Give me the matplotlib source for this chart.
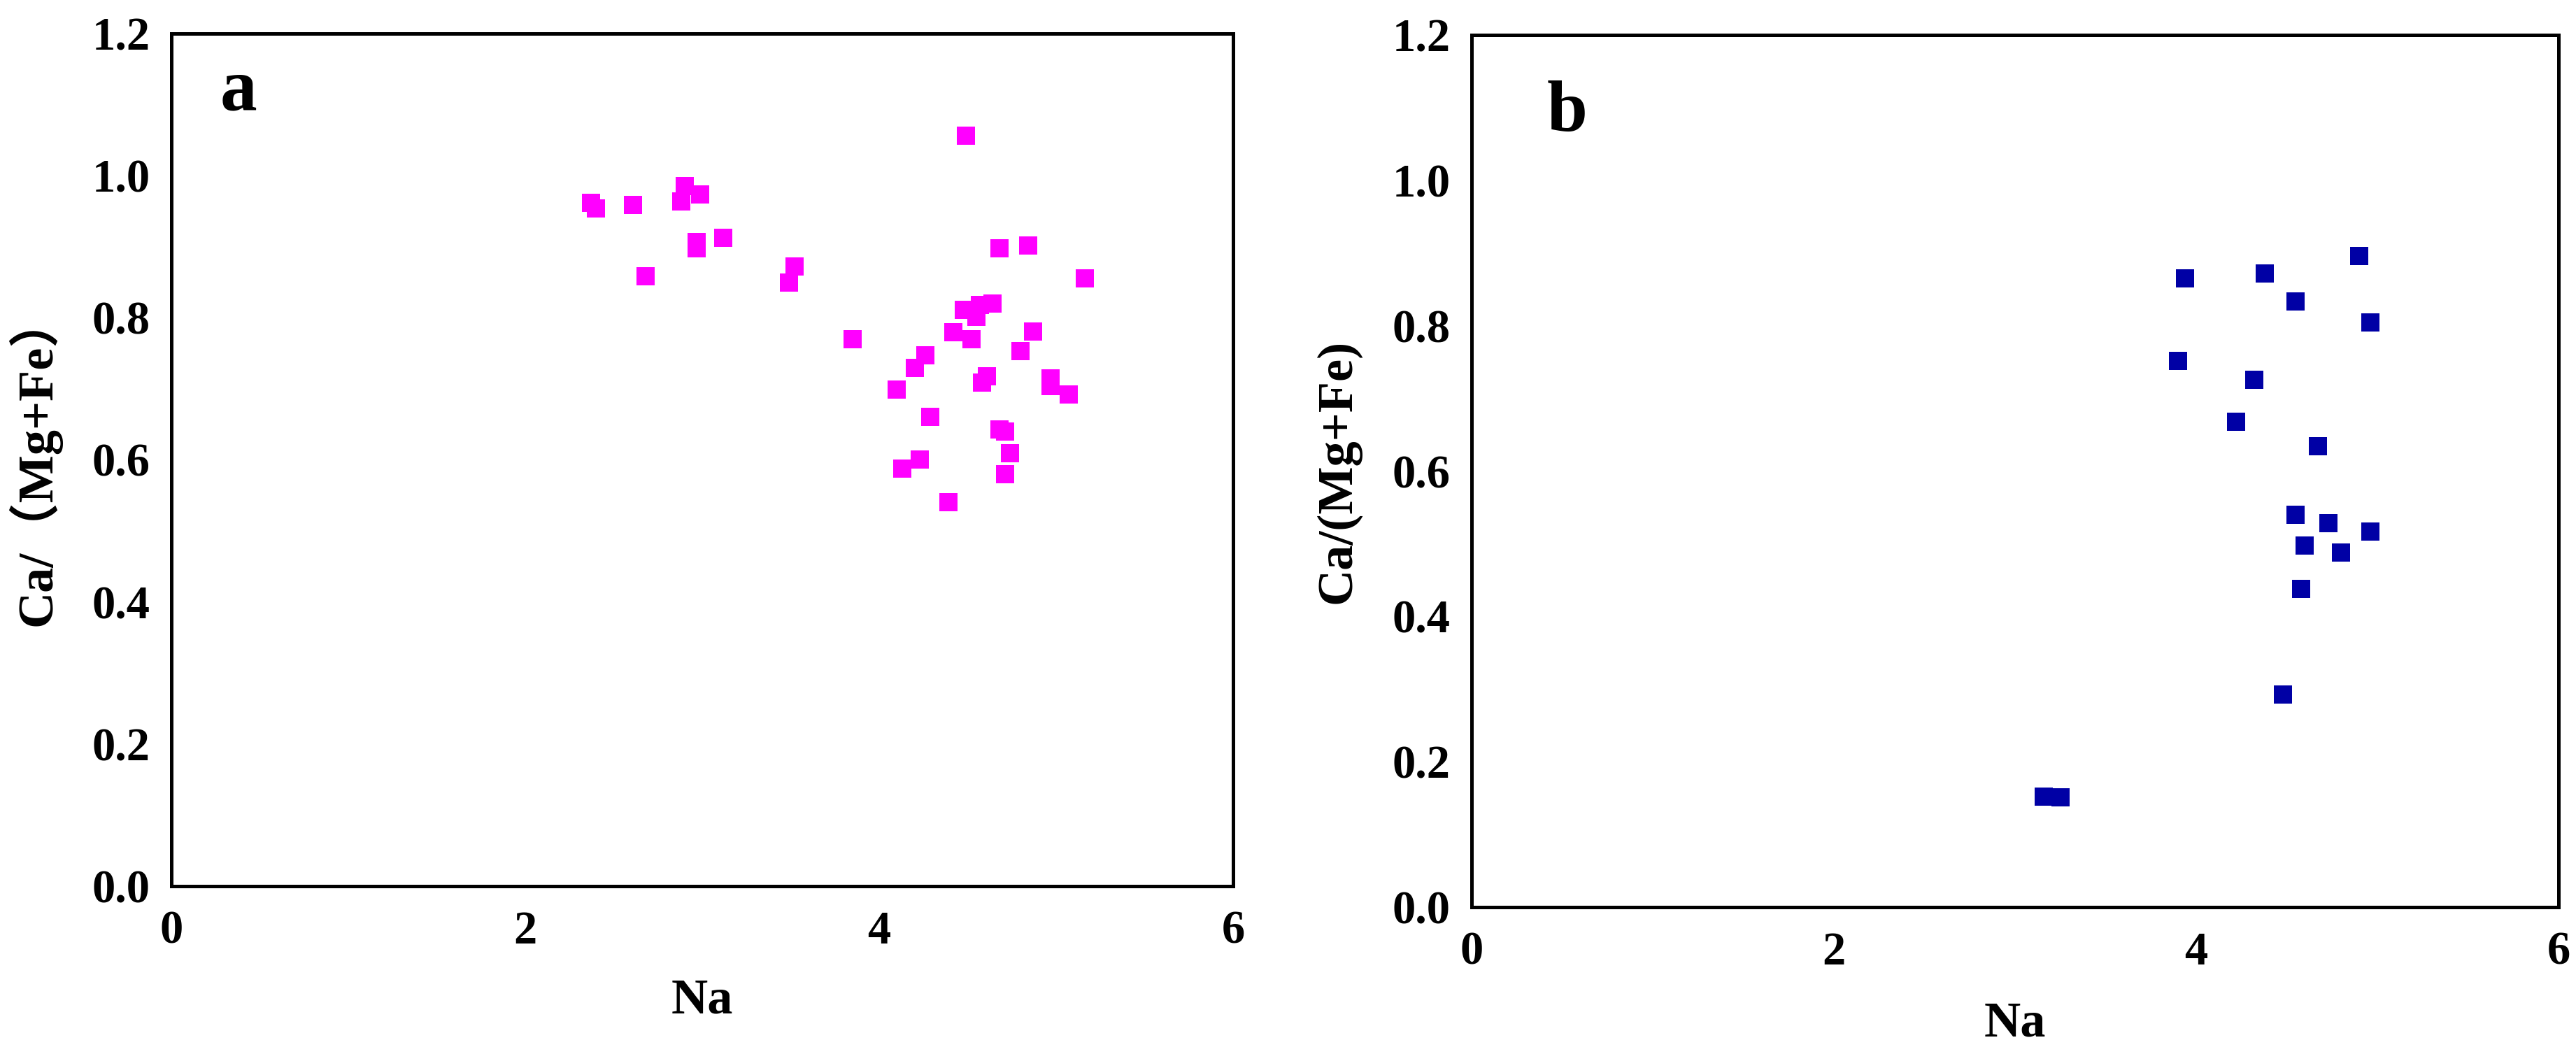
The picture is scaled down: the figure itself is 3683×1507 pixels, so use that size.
import matplotlib
matplotlib.use('Agg')
import matplotlib.pyplot as plt

# panel a: Na vs Ca/(Mg+Fe)
na_a = [2.37, 2.40, 2.61, 2.68, 2.90, 2.88, 2.99, 2.97, 2.97, 3.12, 3.49, 3.52,
        3.85, 4.49, 4.68, 4.84, 5.16, 4.48, 4.55, 4.57, 4.64, 4.42, 4.52, 4.87,
        4.80, 4.26, 4.20, 4.10, 4.61, 4.58, 4.97, 4.97, 5.07, 4.29, 4.68, 4.71,
        4.74, 4.71, 4.23, 4.13, 4.39]
ratio_a = [0.962, 0.954, 0.959, 0.858, 0.985, 0.964, 0.974, 0.907, 0.898, 0.912,
           0.849, 0.872, 0.770, 1.056, 0.898, 0.902, 0.855, 0.811, 0.801, 0.818,
           0.820, 0.780, 0.770, 0.781, 0.753, 0.747, 0.729, 0.699, 0.718, 0.709,
           0.715, 0.704, 0.692, 0.660, 0.643, 0.640, 0.609, 0.580, 0.600, 0.588,
           0.540]

# panel b
na_b = [3.94, 3.90, 4.38, 4.55, 4.90, 4.96, 4.32, 4.22, 4.67, 4.55, 4.73, 4.96,
        4.60, 4.80, 4.58, 4.48, 3.16, 3.25]
ratio_b = [0.865, 0.752, 0.872, 0.833, 0.896, 0.805, 0.726, 0.668, 0.634, 0.540,
           0.528, 0.517, 0.498, 0.488, 0.438, 0.293, 0.152, 0.151]

x_ticks = [0, 2, 4, 6]
y_ticks = [0.0, 0.2, 0.4, 0.6, 0.8, 1.0, 1.2]

serif = 'Liberation Serif'

fig = plt.figure(figsize=(36.83, 15.07), dpi=100)
ax_a = fig.add_axes([0.0665, 0.1593, 0.4122, 0.8089])
ax_b = fig.add_axes([0.5713, 0.1393, 0.4219, 0.8275])


def style_axes(ax):
    ax.set_xlim(0, 6)
    ax.set_ylim(0, 1.2)
    ax.set_xticks(x_ticks)
    ax.set_yticks(y_ticks)
    ax.set_xticklabels([str(t) for t in x_ticks], fontfamily=serif,
                       fontweight='bold', fontsize=48)
    ax.set_yticklabels(['%.1f' % t for t in y_ticks], fontfamily=serif,
                       fontweight='bold', fontsize=48)
    ax.tick_params(axis='x', length=0, pad=25)
    ax.tick_params(axis='y', length=0, pad=22)
    for sp in ax.spines.values():
        sp.set_linewidth(3.6)
        sp.set_color('black')
    ax.set_xlabel('Na', fontfamily=serif, fontweight='bold', fontsize=52)
    ax.xaxis.set_label_coords(0.5, -0.108)


# 绘制 a
ax_a.plot(na_a, ratio_a, 's', color='#FF00FF', markersize=19, markeredgewidth=0)
style_axes(ax_a)
ax_a.set_ylabel('Ca/（Mg+Fe）', family=[serif, 'Noto Sans CJK SC'],
                fontweight='bold', fontsize=52)
ax_a.yaxis.set_label_coords(-0.104, 0.5)
ax_a.text(0.046, 0.911, 'a', transform=ax_a.transAxes, fontfamily=serif,
          fontweight='bold', fontsize=76, va='baseline', ha='left')

# 绘制 b
ax_b.plot(na_b, ratio_b, 's', color='#0000A5', markersize=19, markeredgewidth=0)
style_axes(ax_b)
ax_b.set_ylabel('Ca/(Mg+Fe)', fontfamily=serif, fontweight='bold', fontsize=52)
ax_b.yaxis.set_label_coords(-0.102, 0.5)
ax_b.text(0.0695, 0.890, 'b', transform=ax_b.transAxes, fontfamily=serif,
          fontweight='bold', fontsize=75, va='baseline', ha='left')

fig.savefig('out.png', dpi=100)
